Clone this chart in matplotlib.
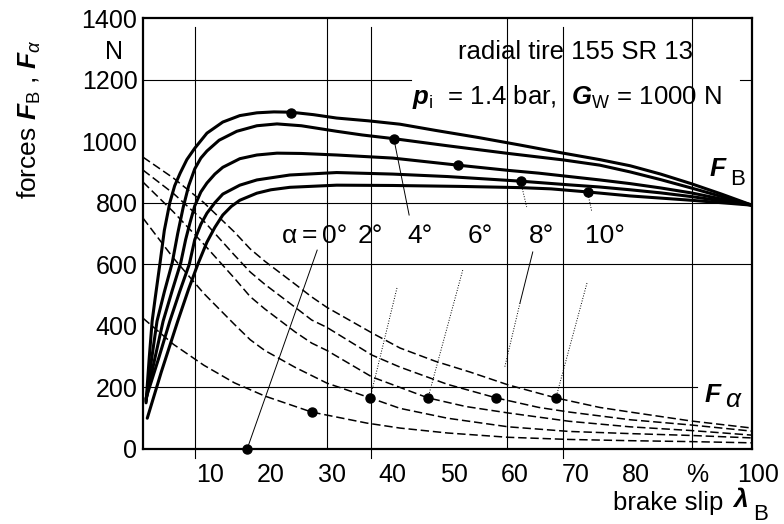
import numpy as np
import matplotlib
matplotlib.use("Agg")
import matplotlib.pyplot as plt
from matplotlib.transforms import ScaledTranslation

plt.rcParams['font.family'] = ['Liberation Sans', 'DejaVu Sans']
plt.rcParams['mathtext.fontset'] = 'custom'
plt.rcParams['mathtext.rm'] = 'Liberation Sans'
plt.rcParams['mathtext.it'] = 'Liberation Sans:italic'
plt.rcParams['mathtext.bf'] = 'Liberation Sans:bold'
plt.rcParams['mathtext.bfit'] = 'Liberation Sans:bold:italic'

# brake force F_B (solid), one curve per slip angle
fb_x = [
    [0.5, 1.0, 1.5, 2.0, 2.8, 3.5, 4.4, 5.2, 6.1, 7.2, 8.5, 10.5, 13.1, 15.9, 18.7, 21.5, 24.3, 28,
     31.8, 37, 42.2, 48, 55, 62, 69, 75, 80, 85, 90, 95, 100],
    [0.5, 1.4, 2.3, 3.5, 4.8, 5.7, 6.6, 7.5, 8.5, 9.5, 10.5, 12.5, 15.4, 18.7, 22, 26, 31.8, 36,
     41.2, 50, 60, 69, 75, 80, 85, 90, 95, 100],
    [0.5, 1.9, 3.3, 4.8, 6.2, 7.0, 7.7, 8.5, 9.5, 10.5, 11.8, 13.1, 15.9, 18.7, 22, 26, 31.8, 41,
     51.7, 60, 65, 70, 75, 80, 85, 90, 95, 100],
    [0.5, 2.5, 4.4, 6.0, 7.6, 8.5, 9.5, 10.5, 11.8, 13.1, 15.9, 18.7, 24.1, 31.8, 41, 50, 62, 70,
     75, 80, 85, 90, 95, 100],
    [0.7, 3.0, 5.7, 7.5, 9.0, 10.5, 11.8, 13.1, 14.5, 15.9, 18.7, 21, 24.1, 31.8, 41, 52, 62, 67,
     73, 80, 85, 90, 95, 100],
]
fb_y = [
    [150, 290, 415, 490, 605, 710, 800, 855, 896, 940, 977, 1026, 1062, 1083, 1092, 1095, 1094, 1086,
     1075, 1066, 1055, 1035, 1012, 987, 961, 940, 920, 893, 862, 828, 792],
    [155, 290, 415, 510, 605, 700, 785, 855, 910, 945, 968, 1003, 1032, 1050, 1056, 1050, 1032, 1020,
     1008, 985, 960, 939, 922, 900, 875, 848, 820, 792],
    [160, 290, 415, 515, 605, 680, 734, 790, 835, 864, 893, 915, 943, 955, 961, 960, 955, 945,
     922, 905, 896, 885, 874, 862, 848, 832, 812, 792],
    [165, 290, 415, 510, 600, 680, 730, 766, 800, 828, 857, 874, 890, 898, 893, 885, 870, 858,
     851, 842, 832, 820, 806, 792],
    [100, 250, 415, 520, 600, 672, 720, 760, 788, 808, 831, 842, 850, 857, 856, 853, 849, 845,
     835, 822, 815, 808, 800, 792],
]

# side force F_alpha (dashed), alpha = 10, 8, 6, 4, 2 deg
fa_x = [
    [0, 5, 10, 15, 17.6, 20, 25, 27.7, 30.2, 37.6, 42.2, 48, 53.7, 60, 67.8, 75, 80, 90, 100],
    [0, 5, 10, 15, 17.6, 20, 25, 27.7, 30.2, 37.6, 42.2, 50, 58, 65, 70, 80, 90, 100],
    [0, 5, 10, 15, 17.6, 20, 25, 27.7, 30.2, 37.6, 42.2, 46.8, 53, 60, 70, 80, 90, 100],
    [0, 5, 10, 15, 17.6, 20, 25, 30.2, 37.3, 42.2, 50, 60, 70, 80, 90, 100],
    [0, 5, 10, 15, 20, 27.7, 36.8, 42.2, 50, 60, 70, 80, 90, 100],
]
fa_y = [
    [948, 880, 800, 705, 650, 610, 535, 494, 460, 377, 328, 285, 250, 208, 166, 135, 120, 91, 68],
    [906, 830, 740, 630, 575, 535, 460, 419, 395, 305, 266, 210, 166, 135, 120, 95, 78, 58],
    [867, 770, 665, 555, 495, 455, 380, 344, 320, 234, 200, 166, 138, 117, 90, 72, 60, 45],
    [750, 620, 505, 405, 355, 320, 265, 214, 166, 132, 100, 72, 57, 50, 44, 36],
    [425, 340, 272, 215, 172, 120, 84, 68, 52, 38, 31, 27, 24, 20],
]

# marked points
fb_dot_x = [24.3, 41.2, 51.7, 62, 73]
fb_dot_y = [1091, 1007, 922, 870, 835]
fa_dot_x = [17.1, 27.7, 37.3, 46.8, 58, 67.8]
fa_dot_y = [0, 120, 166, 166, 166, 166]

alpha_labels = ['0°', '2°', '4°', '6°', '8°', '10°']
alpha_label_x = [31.5, 37.3, 45.5, 55.3, 65.4, 75.9]
x_ticks = [10, 20, 30, 40, 50, 60, 70, 80, 90, 100]
x_tick_labels = ['10', '20', '30', '40', '50', '60', '70', '80', '%', '100']
y_ticks = [0, 200, 400, 600, 800, 1000, 1200, 1400]

fig = plt.figure(figsize=(7.84, 5.24), dpi=100)
ax = fig.add_axes([143 / 784, 75 / 524, 609 / 784, 431 / 524])
ax.set_xlim(0, 100)
ax.set_ylim(0, 1400)

# irregular grid of the original scan
for gx in [30.2, 59.8, 90.1]:
    ax.plot([gx, gx], [0, 1400], color='black', lw=0.8, zorder=1)
for gx in [8.5, 37.4, 69.0]:
    ax.plot([gx, gx], [-30, 1370], color='black', lw=0.8, zorder=1, clip_on=False)
ax.plot([0, 100], [800, 800], color='black', lw=0.8, zorder=1)
ax.plot([0, 100], [600, 600], color='black', lw=0.8, zorder=1)
ax.plot([0, 91], [200, 200], color='black', lw=0.8, zorder=1)
ax.plot([0, 44], [1200, 1200], color='black', lw=0.8, zorder=1)
ax.plot([98, 100], [1200, 1200], color='black', lw=0.8, zorder=1)

for xs, ys in zip(fb_x, fb_y):
    ax.plot(xs, ys, color='black', lw=2.2, solid_capstyle='round', solid_joinstyle='round', zorder=3)
for xs, ys in zip(fa_x, fa_y):
    ax.plot(xs, ys, color='black', lw=1.1, dashes=(5.5, 2.5), zorder=3)

ax.plot(fb_dot_x, fb_dot_y, 'o', color='black', ms=6.5, zorder=4)
ax.plot(fa_dot_x, fa_dot_y, 'o', color='black', ms=6.5, zorder=4, clip_on=False)

# leader lines from the angle labels
ax.plot([28.6, 17.1], [646, 0], color='black', lw=0.7, zorder=2)
ax.plot([43.7, 41.2], [760, 1007], color='black', lw=0.7, zorder=2)
ax.plot([62, 63], [870, 786], color='black', lw=0.7, ls=':', zorder=2)
ax.plot([73, 73.7], [835, 770], color='black', lw=0.7, ls=':', zorder=2)
ax.plot([41.7, 37.3], [523, 166], color='black', lw=0.7, ls=':', zorder=2)
ax.plot([52.5, 46.8], [581, 166], color='black', lw=0.7, ls=':', zorder=2)
ax.plot([64, 61.9], [640, 474], color='black', lw=0.7, zorder=2)
ax.plot([61.9, 59.4], [474, 266], color='black', lw=0.7, ls=':', zorder=2)
ax.plot([72.9, 67.8], [539, 166], color='black', lw=0.7, ls=':', zorder=2)

for s in ax.spines.values():
    s.set_linewidth(1.6)
    s.set_zorder(5)

ax.set_xticks(x_ticks)
ax.set_xticklabels(x_tick_labels)
ax.set_yticks(y_ticks)
ax.tick_params(length=0, labelsize=18, pad=4)
ax.tick_params(axis='x', pad=10)
shift = ScaledTranslation(6 / 100, 0, fig.dpi_scale_trans)
for lab in ax.get_xticklabels():
    lab.set_transform(lab.get_transform() + shift)

ax.text(-3.3, 1289, 'N', ha='right', va='center', fontsize=18, clip_on=False)

ax.text(51.7, 1290, 'radial tire 155 SR 13', ha='left', va='center', fontsize=18.5)
ax.text(44.2, 1143, r'$\mathbfit{p}_\mathrm{i}$  = 1.4 bar,  $\mathbfit{G}_\mathrm{W}$ = 1000 N',
        ha='left', va='center', fontsize=18.5)

ax.text(93.0, 910, r'$\mathbfit{F}$', ha='left', va='center', fontsize=19)
ax.text(96.4, 876, 'B', ha='left', va='center', fontsize=16)
ax.text(92.2, 174, r'$\mathbfit{F}$', ha='left', va='center', fontsize=19)
ax.text(95.6, 158, 'α', ha='left', va='center', fontsize=19, style='italic')

ax.text(24.1, 692, 'α', ha='center', va='center', fontsize=19)
ax.text(27.4, 695, '=', ha='center', va='center', fontsize=19)
for lab, lx in zip(alpha_labels, alpha_label_x):
    ax.text(lx, 692, lab, ha='center', va='center', fontsize=19)

fig.text(0.038, 0.772, r'forces $\mathbfit{F}_\mathrm{B}$ , $\mathbfit{F}_{\alpha}$',
         rotation=90, ha='center', va='center', fontsize=19)
fig.text(613 / 784, 1 - 503 / 524, 'brake slip', ha='left', va='center', fontsize=18.5)
fig.text(732 / 784, 1 - 500 / 524, r'$\mathbfit{\lambda}$', ha='left', va='center', fontsize=19)
fig.text(753 / 784, 1 - 515 / 524, 'B', ha='left', va='center', fontsize=16)

fig.savefig('out.png', dpi=100)
